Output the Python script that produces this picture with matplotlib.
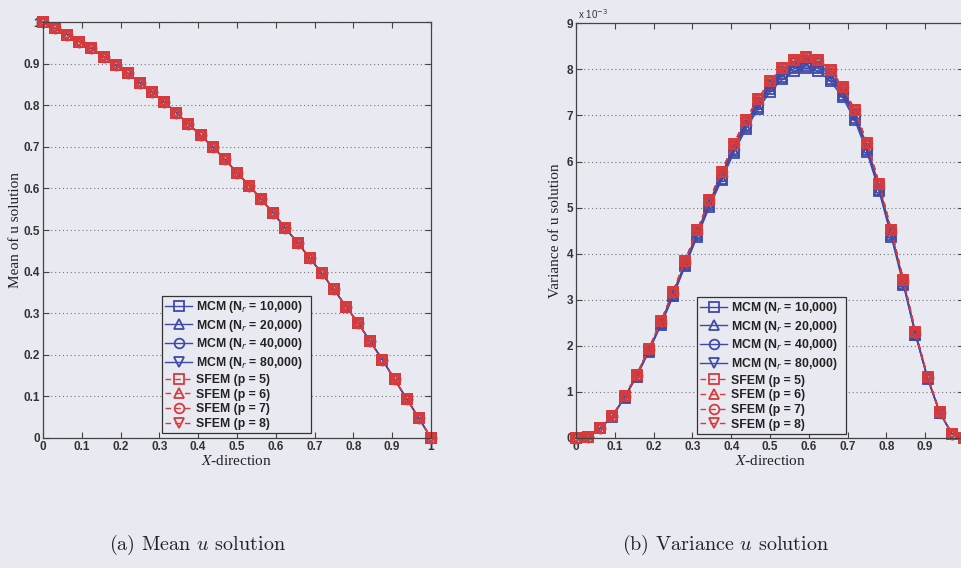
import numpy as np
import matplotlib
matplotlib.use("Agg")
import matplotlib.pyplot as plt

# x nodes (33 equally spaced points on [0, 1])
x_nodes = np.linspace(0, 1, 33)

# mean of u (all methods practically coincide)
mean_mcm = [1.0, 0.985, 0.970, 0.953, 0.937, 0.917, 0.897, 0.877, 0.854, 0.832, 0.808,
            0.782, 0.755, 0.728, 0.700, 0.670, 0.638, 0.607, 0.574, 0.541, 0.504, 0.470,
            0.433, 0.396, 0.357, 0.316, 0.276, 0.232, 0.188, 0.141, 0.094, 0.048, 0.0]
mean_sfem = [1.0, 0.985, 0.970, 0.953, 0.937, 0.917, 0.897, 0.877, 0.854, 0.832, 0.808,
             0.782, 0.755, 0.728, 0.700, 0.670, 0.638, 0.607, 0.574, 0.541, 0.504, 0.470,
             0.433, 0.396, 0.357, 0.316, 0.276, 0.232, 0.188, 0.141, 0.094, 0.048, 0.0]

# variance of u, in units of 1e-3
var_mcm_10k = [0.0, 0.03, 0.21, 0.46, 0.87, 1.33, 1.87, 2.45, 3.07, 3.73, 4.37, 5.01, 5.59,
               6.18, 6.70, 7.13, 7.51, 7.78, 7.96, 8.02, 7.96, 7.74, 7.39, 6.89, 6.20, 5.35,
               4.37, 3.32, 2.23, 1.28, 0.54, 0.09, 0.0]
var_mcm_20k = [0.0, 0.03, 0.21, 0.47, 0.88, 1.34, 1.88, 2.47, 3.09, 3.76, 4.40, 5.05, 5.63,
               6.23, 6.75, 7.18, 7.57, 7.84, 8.02, 8.08, 8.02, 7.80, 7.45, 6.95, 6.25, 5.39,
               4.40, 3.35, 2.24, 1.29, 0.55, 0.09, 0.0]
var_mcm_40k = [0.0, 0.03, 0.21, 0.47, 0.88, 1.35, 1.90, 2.49, 3.12, 3.79, 4.44, 5.09, 5.68,
               6.28, 6.80, 7.24, 7.63, 7.90, 8.08, 8.14, 8.08, 7.86, 7.50, 7.00, 6.30, 5.43,
               4.44, 3.38, 2.26, 1.30, 0.55, 0.09, 0.0]
var_mcm_80k = [0.0, 0.03, 0.22, 0.47, 0.89, 1.36, 1.91, 2.50, 3.14, 3.81, 4.46, 5.12, 5.71,
               6.32, 6.84, 7.28, 7.67, 7.94, 8.13, 8.19, 8.13, 7.90, 7.55, 7.04, 6.34, 5.47,
               4.47, 3.40, 2.28, 1.31, 0.56, 0.09, 0.0]
var_sfem = [0.0, 0.03, 0.22, 0.48, 0.90, 1.37, 1.93, 2.53, 3.17, 3.85, 4.51, 5.17, 5.77,
            6.38, 6.91, 7.35, 7.75, 8.02, 8.21, 8.27, 8.21, 7.98, 7.62, 7.11, 6.40, 5.52,
            4.51, 3.43, 2.30, 1.32, 0.56, 0.09, 0.0]

mcm_labels = ["MCM (N$_r$ = 10,000)", "MCM (N$_r$ = 20,000)",
              "MCM (N$_r$ = 40,000)", "MCM (N$_r$ = 80,000)"]
sfem_labels = ["SFEM (p = 5)", "SFEM (p = 6)", "SFEM (p = 7)", "SFEM (p = 8)"]
markers = ["s", "^", "o", "v"]

x_ticks = [0, 0.1, 0.2, 0.3, 0.4, 0.5, 0.6, 0.7, 0.8, 0.9, 1]
x_tick_labels = ["0", "0.1", "0.2", "0.3", "0.4", "0.5", "0.6", "0.7", "0.8", "0.9", "1"]
# the right panel is cropped at x = 1, so its last label falls off the page
x_tick_labels_b = ["0", "0.1", "0.2", "0.3", "0.4", "0.5", "0.6", "0.7", "0.8", "0.9", ""]
mean_ticks = [0, 0.1, 0.2, 0.3, 0.4, 0.5, 0.6, 0.7, 0.8, 0.9, 1]
mean_tick_labels = ["0", "0.1", "0.2", "0.3", "0.4", "0.5", "0.6", "0.7", "0.8", "0.9", "1"]
var_ticks = [0, 1, 2, 3, 4, 5, 6, 7, 8, 9]
var_tick_labels = ["0", "1", "2", "3", "4", "5", "6", "7", "8", "9"]

BG = "#e9e9f1"
BLUE = "#3f4aa8"
RED = "#d93a3a"
TXT = "#333333"

plt.rcParams["font.family"] = ["Liberation Sans", "DejaVu Sans"]

fig = plt.figure(figsize=(9.61, 5.68), dpi=100, facecolor=BG)
ax1 = fig.add_axes([0.0447, 0.229, 0.4037, 0.732])
ax2 = fig.add_axes([0.5994, 0.229, 0.4037, 0.730])


def draw_panel(ax, mcm_series, sfem_series, xlabels):
    for vals, mk, lab in zip(mcm_series, markers, mcm_labels):
        ax.plot(x_nodes, vals, color=BLUE, lw=1.0, marker=mk, ms=7, mew=1.3,
                mfc="none", mec=BLUE, label=lab, clip_on=False)
    for vals, mk, lab in zip(sfem_series, markers, sfem_labels):
        ax.plot(x_nodes, vals, color=RED, lw=1.0, ls=(0, (4, 3)), marker=mk, ms=7,
                mew=1.3, mfc="none", mec=RED, label=lab, clip_on=False)
    ax.set_facecolor(BG)
    ax.set_xlim(0, 1)
    ax.set_xticks(x_ticks)
    ax.set_xticklabels(xlabels)
    ax.tick_params(direction="in", length=4, width=0.8, top=True, right=True,
                   labelsize=8.5, colors="#444444", pad=2)
    for lbl in ax.get_xticklabels() + ax.get_yticklabels():
        lbl.set_color(TXT)
        lbl.set_fontweight("bold")
    for sp in ax.spines.values():
        sp.set_color("#444444")
        sp.set_linewidth(0.9)
    ax.yaxis.grid(True, ls=(0, (1, 2.5)), color="#777777", lw=0.8)
    ax.set_axisbelow(True)
    ax.set_xlabel("$X$-direction", fontfamily="Liberation Serif", math_fontfamily="stix",
                  fontsize=11, color="#222222", labelpad=1)


draw_panel(ax1, [mean_mcm] * 4, [mean_sfem] * 4, x_tick_labels)
ax1.set_ylim(0, 1)
ax1.set_yticks(mean_ticks)
ax1.set_yticklabels(mean_tick_labels)
ax1.set_ylabel("Mean of u solution", fontfamily="Liberation Serif", fontsize=11,
               color="#222222", labelpad=1)

draw_panel(ax2, [var_mcm_10k, var_mcm_20k, var_mcm_40k, var_mcm_80k], [var_sfem] * 4,
           x_tick_labels_b)
ax2.set_ylim(0, 9)
ax2.set_yticks(var_ticks)
ax2.set_yticklabels(var_tick_labels)
ax2.set_ylabel("Variance of u solution", fontfamily="Liberation Serif", fontsize=11,
               color="#222222", labelpad=3)
ax2.text(0.005, 1.005, "x 10$^{-3}$", transform=ax2.transAxes, fontsize=7,
         color=TXT, ha="left", va="bottom")

for ax in (ax1, ax2):
    for tl in ax.get_xticklabels() + ax.get_yticklabels():
        tl.set_fontweight("bold")

for ax, anchor in [(ax1, (0.307, 0.012, 0.384, 0.348)), (ax2, (0.312, 0.01, 0.384, 0.343))]:
    leg = ax.legend(loc="lower left", bbox_to_anchor=anchor, mode="expand",
                    fontsize=8.8, frameon=True, fancybox=False, framealpha=1,
                    facecolor=BG, edgecolor="#333333", handlelength=2.2,
                    handletextpad=0.3, labelspacing=0.22, borderpad=0.25,
                    borderaxespad=0, markerscale=1.0)
    leg.get_frame().set_linewidth(0.9)
    for t in leg.get_texts():
        t.set_color("#222222")
        t.set_fontweight("bold")

fig.text(0.206, 0.04, "(a) Mean $u$ solution", fontfamily="cmr10", math_fontfamily="cm",
         fontsize=14.5, ha="center", va="center", color="#222222")
fig.text(0.755, 0.04, "(b) Variance $u$ solution", fontfamily="cmr10", math_fontfamily="cm",
         fontsize=14.5, ha="center", va="center", color="#222222")

fig.savefig("out.png", dpi=100, facecolor=BG)
